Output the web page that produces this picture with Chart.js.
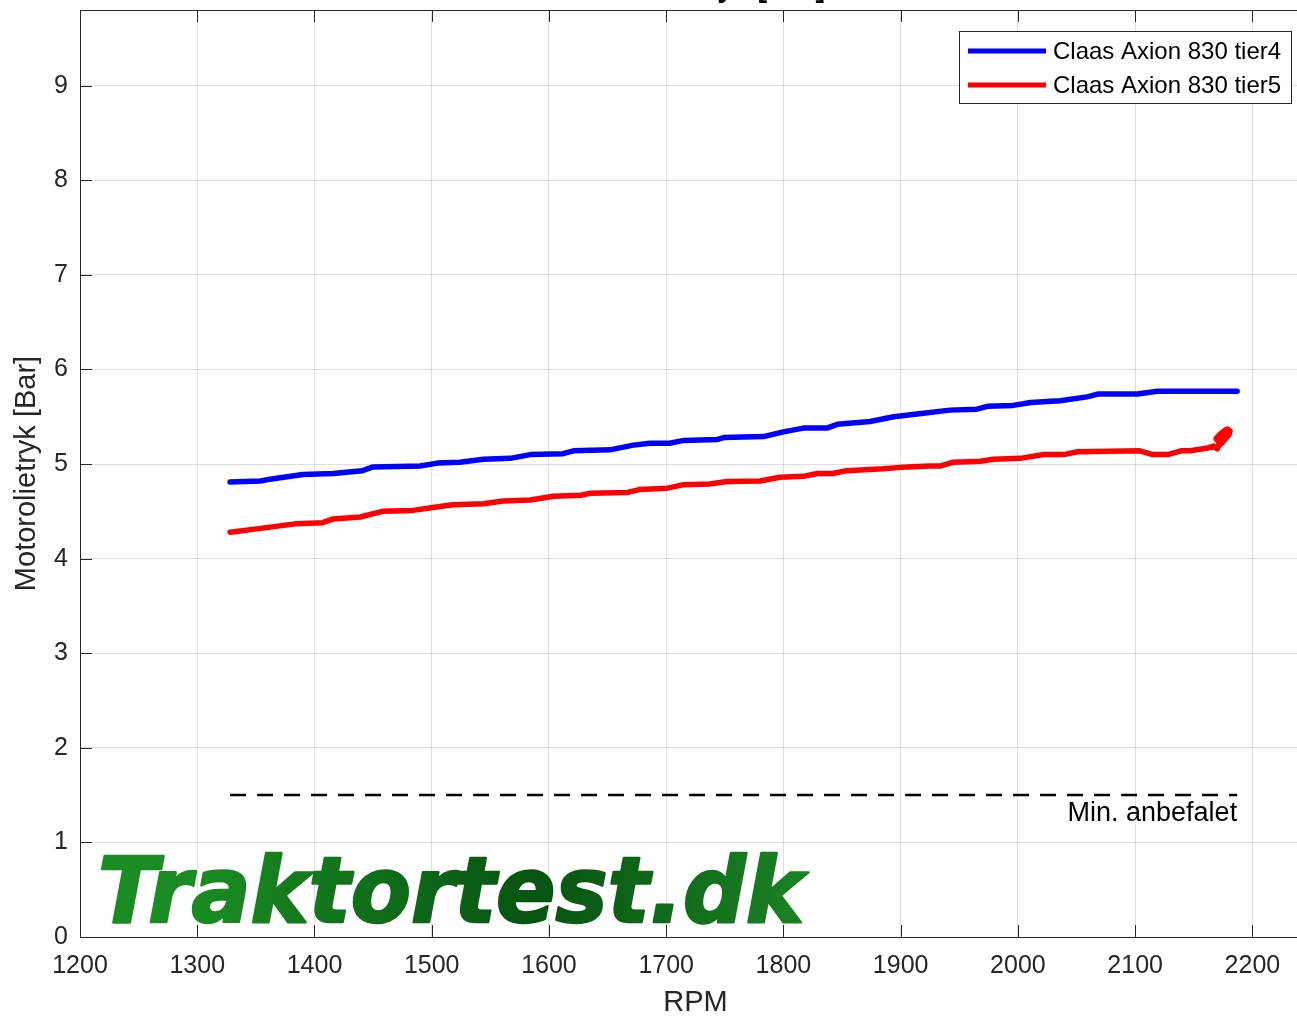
<!DOCTYPE html>
<html>
<head>
<meta charset="utf-8">
<script src="https://cdn.jsdelivr.net/npm/chart.js@4.4.1/dist/chart.umd.min.js"></script>
<style>
html,body{margin:0;padding:0;background:#fff;overflow:hidden;width:1297px;height:1018px}
#wrap{position:relative;width:1311px;height:1018px}
canvas{display:block}
</style>
</head>
<body>
<div id="wrap"><canvas id="c" width="1311" height="1018"></canvas></div>
<script>
// ---- data ----
const seriesNames = ['Claas Axion 830 tier4', 'Claas Axion 830 tier5'];
const tier4Rpm = [1328,1354,1362,1390,1416,1441,1450,1490,1505,1524,1544,1567,1584,1612,1621,1652,1672,1686,1703,1715,1744,1749,1783,1800,1817,1837,1846,1874,1894,1914,1942,1965,1974,1996,2011,2036,2059,2068,2102,2119,2187];
const tier4Bar = [4.81,4.82,4.84,4.89,4.90,4.93,4.97,4.98,5.01,5.02,5.05,5.06,5.10,5.11,5.14,5.15,5.20,5.22,5.22,5.25,5.26,5.28,5.29,5.34,5.38,5.38,5.42,5.45,5.50,5.53,5.57,5.58,5.61,5.62,5.65,5.67,5.71,5.74,5.74,5.77,5.77];
const tier5Rpm = [1328,1354,1385,1407,1416,1439,1458,1484,1501,1518,1544,1561,1584,1604,1627,1635,1667,1677,1701,1714,1737,1752,1780,1797,1817,1829,1842,1854,1885,1906,1925,1934,1945,1968,1979,2002,2022,2039,2051,2104,2115,2128,2139,2147,2162,2167,2170,2172,2169,2172,2176,2179,2181,2180,2177,2174,2171,2174,2177,2180,2178,2175,2172,2176,2179];
const tier5Bar = [4.28,4.32,4.37,4.38,4.42,4.44,4.50,4.51,4.54,4.57,4.58,4.61,4.62,4.66,4.67,4.69,4.70,4.73,4.745,4.78,4.79,4.815,4.82,4.86,4.87,4.90,4.90,4.93,4.95,4.97,4.98,4.98,5.02,5.03,5.05,5.06,5.10,5.10,5.13,5.14,5.10,5.10,5.14,5.14,5.17,5.19,5.16,5.22,5.27,5.31,5.35,5.37,5.35,5.31,5.27,5.22,5.25,5.32,5.36,5.33,5.28,5.24,5.20,5.29,5.34];
const minRpm = [1328, 2187];
const minBar = [1.5, 1.5];
const minLabel = 'Min. anbefalet';
const xRange = [1200, 2250];
const yRange = [0, 9.8];
const xStep = 100;
const yStep = 1;
const chartTitle = 'Motorolietryk [Bar]';
const xTitle = 'RPM';
const yTitle = 'Motorolietryk [Bar]';
const watermark = 'Traktortest.dk';

const FONT = "'Liberation Sans', Arial, Helvetica, sans-serif";
const AXC = '#262626';
const toPts = (xs, ys) => xs.map((x, i) => ({x, y: ys[i]}));

const decor = {
  id: 'decor',
  afterDraw(chart) {
    const {ctx, chartArea: a, scales: {x, y}} = chart;
    ctx.save();
    // watermark
    ctx.font = "bold italic 90px 'DejaVu Sans', sans-serif";
    const w = ctx.measureText(watermark).width;
    const targetW = 706;
    const g = ctx.createLinearGradient(97, 0, 807, 0);
    g.addColorStop(0, '#1a8c23');
    g.addColorStop(0.5, '#075311');
    g.addColorStop(1, '#1f9129');
    ctx.save();
    ctx.translate(98, 922);
    ctx.scale(targetW / w, 1);
    ctx.fillStyle = g;
    ctx.strokeStyle = g;
    ctx.lineWidth = 2.5;
    ctx.lineJoin = 'round';
    ctx.textBaseline = 'alphabetic';
    ctx.textAlign = 'left';
    ctx.fillText(watermark, 0, 0);
    ctx.strokeText(watermark, 0, 0);
    ctx.restore();

    // frame
    ctx.strokeStyle = AXC;
    ctx.lineWidth = 1;
    ctx.strokeRect(Math.round(a.left) + 0.5, Math.round(a.top) + 0.5, a.right - a.left, a.bottom - a.top);
    // inward ticks
    const tl = 12;
    ctx.beginPath();
    x.ticks.forEach(t => {
      const px = Math.round(x.getPixelForValue(t.value)) + 0.5;
      ctx.moveTo(px, a.bottom); ctx.lineTo(px, a.bottom - tl);
      ctx.moveTo(px, a.top); ctx.lineTo(px, a.top + tl);
    });
    y.ticks.forEach(t => {
      const py = Math.round(y.getPixelForValue(t.value)) + 0.5;
      ctx.moveTo(a.left, py); ctx.lineTo(a.left + tl, py);
      ctx.moveTo(a.right, py); ctx.lineTo(a.right - tl, py);
    });
    ctx.stroke();

    // title (mostly cut off at the top edge)
    ctx.fillStyle = '#000';
    ctx.font = 'bold 29px ' + FONT;
    ctx.textAlign = 'center';
    ctx.textBaseline = 'alphabetic';
    ctx.fillText(chartTitle, (a.left + a.right) / 2, -3);

    // min label
    ctx.font = '27px ' + FONT;
    ctx.textAlign = 'right';
    ctx.fillText(minLabel, x.getPixelForValue(minRpm[1]), 821);

    // legend
    const lx = 959.5, ly = 31.5, lw = 332, lh = 72;
    ctx.fillStyle = '#fff';
    ctx.fillRect(lx, ly, lw, lh);
    ctx.strokeStyle = AXC;
    ctx.lineWidth = 1;
    ctx.strokeRect(lx, ly, lw, lh);
    ctx.font = '24px ' + FONT;
    ctx.textAlign = 'left';
    ctx.textBaseline = 'middle';
    [0, 1].forEach(i => {
      const ds = chart.data.datasets[i];
      const yy = 51 + i * 34;
      ctx.strokeStyle = ds.borderColor;
      ctx.lineWidth = 5;
      ctx.beginPath(); ctx.moveTo(968, yy); ctx.lineTo(1046, yy); ctx.stroke();
      ctx.fillStyle = '#000';
      ctx.fillText(ds.label, 1053, yy + 1);
    });
    ctx.restore();
  }
};

new Chart(document.getElementById('c'), {
  type: 'scatter',
  data: {
    datasets: [
      {label: seriesNames[0], data: toPts(tier4Rpm, tier4Bar), showLine: true, borderColor: '#0000ff', borderWidth: 5.5, pointRadius: 0, borderCapStyle: 'round', borderJoinStyle: 'round', tension: 0},
      {label: seriesNames[1], data: toPts(tier5Rpm, tier5Bar), showLine: true, borderColor: '#ff0000', borderWidth: 5.5, pointRadius: 0, borderCapStyle: 'round', borderJoinStyle: 'round', tension: 0},
      {label: minLabel, data: toPts(minRpm, minBar), showLine: true, borderColor: '#000000', borderWidth: 2.5, borderDash: [16, 11], pointRadius: 0, tension: 0}
    ]
  },
  options: {
    responsive: false,
    animation: false,
    devicePixelRatio: 1,
    layout: {padding: {top: 10, right: 0, bottom: 0, left: 0}},
    plugins: {legend: {display: false}, tooltip: {enabled: false}},
    scales: {
      x: {
        type: 'linear', min: xRange[0], max: xRange[1],
        afterFit(s) { s.height = 81; s.paddingLeft = 0; s.paddingRight = 0; },
        border: {display: false},
        grid: {color: 'rgba(38,38,38,0.15)', lineWidth: 1, drawTicks: false},
        ticks: {stepSize: xStep, includeBounds: false, autoSkip: false, maxRotation: 0, padding: 14, color: AXC, font: {family: FONT, size: 25}, callback: v => String(v)},
        title: {display: true, text: xTitle, color: AXC, font: {family: FONT, size: 29}, padding: {top: 0, bottom: -2}}
      },
      y: {
        type: 'linear', min: yRange[0], max: yRange[1],
        afterFit(s) { s.width = 80; s.paddingTop = 0; s.paddingBottom = 0; },
        border: {display: false},
        grid: {color: 'rgba(38,38,38,0.15)', lineWidth: 1, drawTicks: false},
        ticks: {stepSize: yStep, includeBounds: false, autoSkip: false, padding: 12, color: AXC, font: {family: FONT, size: 25}, callback: v => String(v)},
        title: {display: true, text: yTitle, color: AXC, font: {family: FONT, size: 29}, padding: {top: 10, bottom: 0}}
      }
    }
  },
  plugins: [decor]
});
</script>
</body>
</html>
